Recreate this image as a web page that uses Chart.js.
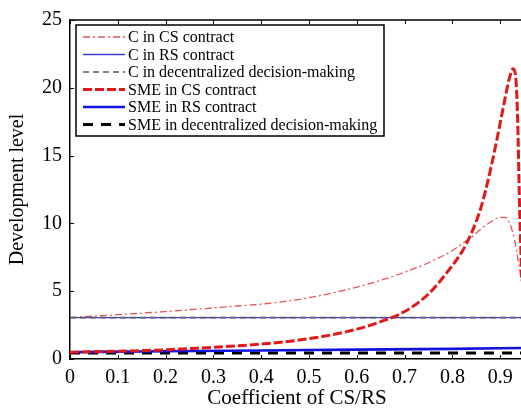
<!DOCTYPE html>
<html>
<head>
<meta charset="utf-8">
<script src="https://cdn.jsdelivr.net/npm/chart.js@4/dist/chart.umd.min.js"></script>
<style>
  html, body { margin: 0; padding: 0; background: #fff; overflow: hidden; width: 521px; height: 416px; }
  #wrap { width: 560px; height: 416px; }
</style>
</head>
<body>
<div id="wrap"><canvas id="c" width="560" height="416"></canvas></div>
<script>
// ---- Data ----
const seriesNames = [
  'C in CS contract',
  'C in RS contract',
  'C in decentralized decision-making',
  'SME in CS contract',
  'SME in RS contract',
  'SME in decentralized decision-making'
];

const xCCS = [0, 0.05, 0.1, 0.15, 0.2, 0.25, 0.3, 0.35, 0.4, 0.45, 0.5, 0.55, 0.6, 0.65, 0.7, 0.75, 0.8, 0.82, 0.84, 0.86, 0.88, 0.9, 0.91, 0.92, 0.93, 0.935, 0.94, 0.945];
const yCCS = [3.05, 3.16, 3.27, 3.38, 3.5, 3.63, 3.77, 3.91, 4.05, 4.25, 4.52, 4.88, 5.3, 5.8, 6.4, 7.1, 8.0, 8.5, 9.0, 9.6, 10.1, 10.45, 10.45, 10.0, 8.8, 7.8, 6.8, 5.5];

const xSCS = [0, 0.05, 0.1, 0.15, 0.2, 0.25, 0.3, 0.35, 0.4, 0.45, 0.5, 0.55, 0.6, 0.65, 0.7, 0.75, 0.8, 0.82, 0.84, 0.86, 0.88, 0.9, 0.91, 0.92, 0.927, 0.933, 0.937, 0.94, 0.945];
const ySCS = [0.5, 0.53, 0.57, 0.62, 0.68, 0.77, 0.86, 0.97, 1.1, 1.27, 1.5, 1.8, 2.2, 2.75, 3.5, 4.8, 6.9, 7.9, 9.3, 11.2, 14.0, 17.4, 19.2, 20.8, 21.4, 20.6, 17.0, 12.0, 6.0];

const xFlat = [0, 0.2, 0.4, 0.6, 0.8, 0.95];
const yCRS = [3.05, 3.05, 3.05, 3.05, 3.05, 3.05];
const yCDec = [3.05, 3.05, 3.05, 3.05, 3.05, 3.05];
const ySRS = [0.5, 0.57, 0.63, 0.69, 0.75, 0.81];
const ySDec = [0.45, 0.45, 0.45, 0.45, 0.45, 0.45];

const xTickValues = [0, 0.1, 0.2, 0.3, 0.4, 0.5, 0.6, 0.7, 0.8, 0.9, 1];
const yTickValues = [0, 5, 10, 15, 20, 25];
const xTitle = 'Coefficient of CS/RS';
const yTitle = 'Development level';

// ---- Build chart ----
const pts = (xs, ys) => xs.map((x, i) => ({ x: x, y: ys[i] }));
const SERIF = "'Liberation Serif', 'Times New Roman', serif";

const styles = [
  { color: '#e5535b', width: 1.3, dash: [7, 3, 2, 3] },
  { color: '#3a3ad6', width: 1.3, dash: [] },
  { color: '#5a5a66', width: 1.6, dash: [6, 4] },
  { color: '#e01818', width: 3, dash: [9, 3] },
  { color: '#1212dc', width: 2.6, dash: [] },
  { color: '#000000', width: 3, dash: [10, 8] }
];
const dataPts = [pts(xCCS, yCCS), pts(xFlat, yCRS), pts(xFlat, yCDec), pts(xSCS, ySCS), pts(xFlat, ySRS), pts(xFlat, ySDec)];
const drawOrder = [3, 4, 2, 0, 1, 5];

const datasets = seriesNames.map((name, i) => ({
  label: name,
  data: dataPts[i],
  borderColor: styles[i].color,
  backgroundColor: styles[i].color,
  borderWidth: styles[i].width,
  borderDash: styles[i].dash,
  pointRadius: 0,
  cubicInterpolationMode: 'monotone',
  fill: false,
  order: drawOrder[i]
}));

const framePlugin = {
  id: 'frame',
  afterDatasetsDraw(chart) {
    const ctx = chart.ctx;
    const a = chart.chartArea;
    const xs = chart.scales.x, ys = chart.scales.y;
    ctx.save();
    ctx.strokeStyle = '#000';
    ctx.lineWidth = 1.5;
    ctx.setLineDash([]);
    ctx.beginPath();
    ctx.moveTo(a.left, a.top);
    ctx.lineTo(a.right, a.top);
    ctx.lineTo(a.right, a.bottom);
    ctx.stroke();
    ctx.lineWidth = 1;
    ctx.beginPath();
    xTickValues.forEach(v => {
      const px = Math.round(xs.getPixelForValue(v)) + 0.5;
      ctx.moveTo(px, a.bottom); ctx.lineTo(px, a.bottom - 4);
      ctx.moveTo(px, a.top); ctx.lineTo(px, a.top + 4);
    });
    yTickValues.forEach(v => {
      const py = Math.round(ys.getPixelForValue(v)) + 0.5;
      ctx.moveTo(a.left, py); ctx.lineTo(a.left + 4, py);
    });
    ctx.stroke();

    // x-axis title (centred as in the reference figure)
    ctx.fillStyle = '#000';
    ctx.font = '21px ' + SERIF;
    ctx.textAlign = 'center';
    ctx.textBaseline = 'middle';
    ctx.fillText(xTitle, 297, 398);

    // legend box
    const bx = 76, by = 25, bw = 308, bh = 111;
    ctx.fillStyle = '#fff';
    ctx.fillRect(bx, by, bw, bh);
    ctx.lineWidth = 1.5;
    ctx.strokeRect(bx, by, bw, bh);
    ctx.font = '16px ' + SERIF;
    ctx.textBaseline = 'middle';
    ctx.textAlign = 'left';
    chart.data.datasets.forEach((ds, i) => {
      const y = 37 + i * 17.5;
      ctx.strokeStyle = ds.borderColor;
      ctx.lineWidth = ds.borderWidth;
      ctx.setLineDash(ds.borderDash);
      ctx.beginPath();
      ctx.moveTo(83, y); ctx.lineTo(125, y);
      ctx.stroke();
      ctx.setLineDash([]);
      ctx.fillStyle = '#000';
      ctx.fillText(ds.label, 128, y + 1);
    });
    ctx.restore();
  }
};

new Chart(document.getElementById('c'), {
  type: 'line',
  data: { datasets: datasets },
  options: {
    responsive: false,
    animation: false,
    layout: { padding: { left: 0, top: 18, right: 10, bottom: 0 } },
    plugins: { legend: { display: false }, tooltip: { enabled: false } },
    scales: {
      x: {
        type: 'linear',
        min: 0, max: 1,
        afterBuildTicks: s => { s.ticks = xTickValues.map(v => ({ value: v })); },
        afterFit: s => { s.height = 57; },
        ticks: {
          color: '#000', padding: 7, maxRotation: 0, autoSkip: false,
          font: { family: SERIF, size: 20 },
          callback: v => (v === 0 ? '0' : (v === 1 ? '1' : v.toFixed(1)))
        },
        grid: { display: true, drawOnChartArea: false, drawTicks: false },
        border: { display: true, color: '#000', width: 1.5 },
        title: { display: false, text: xTitle }
      },
      y: {
        type: 'linear',
        min: 0, max: 25,
        afterBuildTicks: s => { s.ticks = yTickValues.map(v => ({ value: v })); },
        afterFit: s => { s.width = 70; },
        ticks: { color: '#000', padding: 8, font: { family: SERIF, size: 20 } },
        grid: { display: true, drawOnChartArea: false, drawTicks: false },
        border: { display: true, color: '#000', width: 1.5 },
        title: { display: true, text: yTitle, color: '#000', font: { family: SERIF, size: 20, lineHeight: 1 }, padding: { top: 8, bottom: 0 } }
      }
    }
  },
  plugins: [framePlugin]
});
</script>
</body>
</html>
